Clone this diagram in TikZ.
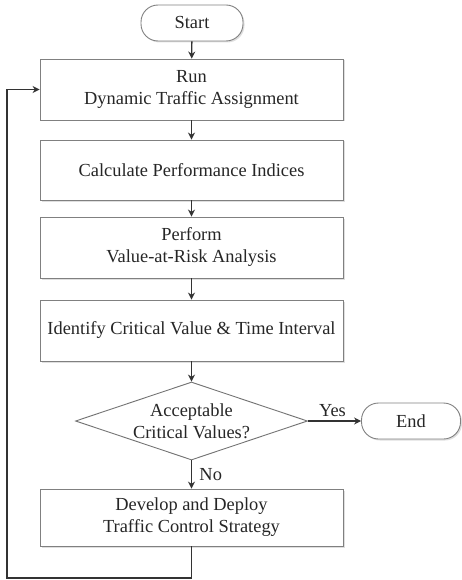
\documentclass[tikz,border=0pt]{standalone}
\usepackage{fontspec}
\setmainfont{Liberation Serif}
\usetikzlibrary{positioning,shapes.geometric,shadows,arrows.meta}

\begin{document}
\begin{tikzpicture}[x=1pt, y=-1pt, >={Stealth[length=7pt,width=7pt]},
  font=\fontsize{18.4}{22}\selectfont, text=black!85]
\tikzset{
  boxshadow/.style={drop shadow={shadow xshift=1.5pt, shadow yshift=-1.5pt, opacity=0.25}},
  process/.style={draw=black!50, line width=0.9pt, fill=white, align=center,
    minimum width=303pt, minimum height=61pt, boxshadow},
  terminal/.style={draw=black!50, line width=0.9pt, fill=white, rounded corners=17pt,
    minimum height=36pt, boxshadow},
  decision/.style={diamond, draw=black!55, line width=0.9pt, fill=white, align=center,
    aspect=2.97, inner sep=-6pt, minimum width=232pt, minimum height=78pt},
  flow/.style={->, line width=1.3pt, draw=black!80}
}
\useasboundingbox (0,0) rectangle (462,580);

% Start / End
\node[terminal, minimum width=102pt] (start) at (192,23) {Start};
\node[terminal, minimum width=99pt] (stop) at (411,421) {End};

% Process steps
\node[process] (run) at (191.5,89.5) {Run\\Dynamic Traffic Assignment};
\node[process, minimum height=60pt] (calc) at (191.5,170) {Calculate Performance Indices};
\node[process] (var) at (191.5,247.5) {Perform\\Value-at-Risk Analysis};
\node[process] (crit) at (191.5,330.5) {Identify Critical Value \& Time Interval};

% Check
\node[decision] (check) at (191.5,421) {Acceptable\\Critical Values?};

\node[process, minimum height=57pt] (ctrl) at (191.5,517.5) {Develop and Deploy\\Traffic Control Strategy};

% Main flow
\draw[flow] (start) -- (run);
\draw[flow] (run) -- (calc);
\draw[flow] (calc) -- (var);
\draw[flow] (var) -- (crit);
\draw[flow] (crit) -- (check);
\draw[flow] (check.east) -- node[above, xshift=-2pt] {Yes} (stop.west);
\draw[flow] (check.south) -- node[right, xshift=4pt] {No} (ctrl.north);

% Loop back
\coordinate (back) at (7,578);
\draw[flow] (ctrl.south) |- (back) |- (run.west);

\end{tikzpicture}
\end{document}
